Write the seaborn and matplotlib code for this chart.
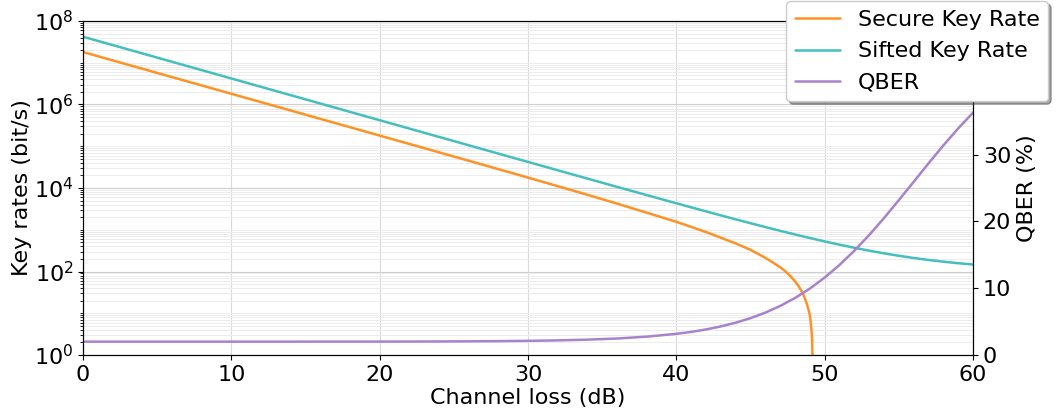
import numpy as np
import pandas as pd
import matplotlib
matplotlib.use("Agg")
import matplotlib.pyplot as plt
from matplotlib.ticker import FixedLocator, NullFormatter, LogFormatterSciNotation
import seaborn as sns

# ---------------- data ----------------
loss_db = [0, 2, 4, 6, 8, 10, 12, 14, 16, 18, 20, 22, 24, 26, 28, 30, 32, 34, 36, 38, 40,
           41, 42, 43, 44, 45, 46, 47, 48, 49, 50, 51, 52, 53, 54, 55, 56, 57, 58, 59, 60]
sifted_rate = [4.2e7, 2.65e7, 1.672e7, 1.055e7, 6.66e6, 4.2e6, 2.65e6, 1.672e6, 1.055e6, 6.66e5,
               4.2e5, 2.651e5, 1.673e5, 1.056e5, 6.67e4, 4.21e4, 2.66e4, 1.682e4, 1.065e4, 6762, 4305,
               3441, 2755, 2210, 1777, 1433, 1160, 943, 771, 634, 525,
               439, 370, 316, 272, 238, 210.5, 189, 172, 158, 147]
qber_pct = [2.00, 2.00, 2.00, 2.00, 2.00, 2.00, 2.00, 2.00, 2.01, 2.01,
            2.01, 2.02, 2.03, 2.05, 2.08, 2.12, 2.19, 2.30, 2.47, 2.75, 3.17,
            3.46, 3.83, 4.28, 4.84, 5.52, 6.35, 7.35, 8.54, 9.95, 11.60,
            13.49, 15.62, 17.97, 20.51, 23.20, 25.94, 28.70, 31.38, 33.93, 36.29]

secure_loss_db = [0, 2, 4, 6, 8, 10, 12, 14, 16, 18, 20, 22, 24, 26, 28, 30, 32, 34, 36, 38, 40,
                  41, 42, 43, 44, 45, 45.5, 46, 46.5, 47, 47.25, 47.5, 47.75, 48, 48.25,
                  48.5, 48.65, 48.8, 48.9, 49, 49.05, 49.1, 49.15, 49.2, 49.22]
secure_rate = [1.805e7, 1.139e7, 7.18e6, 4.53e6, 2.86e6, 1.805e6, 1.139e6, 7.18e5, 4.53e5, 2.858e5,
               1.801e5, 1.136e5, 7.15e4, 4.50e4, 2.83e4, 1.773e4, 1.108e4, 6880, 4230, 2560, 1550,
               1170, 880, 645, 470, 330, 265, 212, 165, 126, 108, 90, 73, 58, 44,
               31, 23.3, 16.6, 12.4, 8.85, 6.3, 4.2, 2.25, 0.4, 0.01]

series_labels = ["Secure Key Rate", "Sifted Key Rate", "QBER"]
series_colors = ["#FF9224", "#45BEBE", "#A883CC"]

x_ticks = [0, 10, 20, 30, 40, 50, 60]
y_major = [1e0, 1e2, 1e4, 1e6, 1e8]
qber_ticks = [0, 10, 20, 30]

# ---------------- style ----------------
sns.set_style("ticks", rc={
    "axes.edgecolor": "black",
    "axes.labelcolor": "black",
    "text.color": "black",
    "xtick.color": "black",
    "ytick.color": "black",
})
plt.rcParams["font.family"] = ["DejaVu Sans"]
plt.rcParams["font.size"] = 16
plt.rcParams["axes.labelsize"] = 16
plt.rcParams["xtick.labelsize"] = 16
plt.rcParams["ytick.labelsize"] = 16
plt.rcParams["legend.fontsize"] = 16
plt.rcParams["axes.linewidth"] = 0.8
plt.rcParams["xtick.major.size"] = 3.5
plt.rcParams["ytick.major.size"] = 3.5
plt.rcParams["ytick.minor.size"] = 2
plt.rcParams["xtick.major.width"] = 0.8
plt.rcParams["ytick.major.width"] = 0.8
plt.rcParams["ytick.minor.width"] = 0.6

df_main = pd.DataFrame({"loss": loss_db, "sifted": sifted_rate, "qber": qber_pct})
df_sec = pd.DataFrame({"loss": secure_loss_db, "secure": secure_rate})

fig = plt.figure(figsize=(10.6, 4.19), dpi=100)
ax = fig.add_axes([0.0783, 0.1527, 0.9180 - 0.0783, 0.9499 - 0.1527])

lw = 1.8
sns.lineplot(data=df_sec, x="loss", y="secure", ax=ax, color=series_colors[0],
             lw=lw, label=series_labels[0], estimator=None, sort=False)
sns.lineplot(data=df_main, x="loss", y="sifted", ax=ax, color=series_colors[1],
             lw=lw, label=series_labels[1], estimator=None, sort=False)
ax.set_yscale("log")
ax.set_xlim(0, 60)
ax.set_ylim(1e0, 1e8)
ax.set_xticks(x_ticks)
ax.yaxis.set_major_locator(FixedLocator(y_major))
ax.yaxis.set_major_formatter(LogFormatterSciNotation(base=10))
minor_vals = [k * 10.0 ** d for d in range(0, 8) for k in range(1, 10) if not (k == 1 and d % 2 == 0)]
ax.yaxis.set_minor_locator(FixedLocator(minor_vals))
ax.yaxis.set_minor_formatter(NullFormatter())
ax.set_xlabel("Channel loss (dB)", labelpad=2)
ax.set_ylabel("Key rates (bit/s)", labelpad=1)

ax.grid(True, which="major", axis="x", color="#dadada", lw=0.8)
ax.grid(True, which="major", axis="y", color="#cfcfcf", lw=0.8)
ax.grid(True, which="minor", axis="y", color="#ececec", lw=0.7)
ax.set_axisbelow(True)

ax2 = ax.twinx()
sns.lineplot(data=df_main, x="loss", y="qber", ax=ax2, color=series_colors[2],
             lw=lw, label=series_labels[2], estimator=None, sort=False)
ax2.set_ylim(0, 50)
ax2.set_yticks(qber_ticks)
ax2.set_ylabel("QBER (%)", labelpad=4)
ax2.grid(False)
for s in ax2.spines.values():
    s.set_visible(True)

h1, l1 = ax.get_legend_handles_labels()
h2, l2 = ax2.get_legend_handles_labels()
if ax.get_legend() is not None:
    ax.get_legend().remove()
if ax2.get_legend() is not None:
    ax2.get_legend().remove()
leg = ax2.legend(h1 + h2, l1 + l2, loc="upper right", bbox_to_anchor=(1.097, 1.092),
                 frameon=True, fancybox=True, shadow=True, framealpha=1,
                 edgecolor="0.8")
leg.set_zorder(10)

fig.savefig("out.png", dpi=100)
